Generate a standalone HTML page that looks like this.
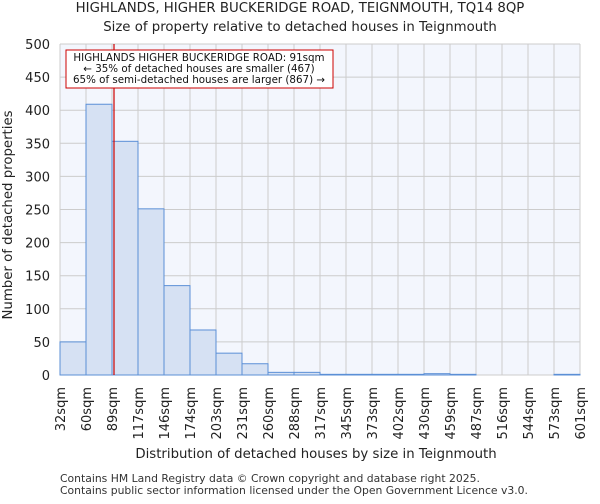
<!DOCTYPE html>
<html><head><meta charset="utf-8"><style>
body{margin:0;background:#fff;font-family:"DejaVu Sans","Liberation Sans",sans-serif;}
</style></head><body>
<svg width="600" height="500" xmlns="http://www.w3.org/2000/svg" style="font-family:'DejaVu Sans','Liberation Sans',sans-serif">
<text x="300" y="12" text-anchor="middle" font-size="13.3" fill="#222">HIGHLANDS, HIGHER BUCKERIDGE ROAD, TEIGNMOUTH, TQ14 8QP</text>
<text x="300" y="31" text-anchor="middle" font-size="13.3" fill="#222">Size of property relative to detached houses in Teignmouth</text>
<rect x="60" y="44" width="520" height="331" fill="#f3f6fd"/>
<g id="grid"></g>
<g id="bars"></g>
<g id="yticks"></g>
<g id="xticks"></g>
<line x1="114" y1="44" x2="114" y2="375" stroke="#cc0000" stroke-width="1.2"/>
<g>
<rect x="66" y="50" width="267" height="38" fill="#fff" stroke="#cc0000" stroke-width="1"/>
<text x="199" y="61" text-anchor="middle" font-size="10.3" fill="#111">HIGHLANDS HIGHER BUCKERIDGE ROAD: 91sqm</text>
<text x="199" y="72" text-anchor="middle" font-size="10.3" fill="#111">← 35% of detached houses are smaller (467)</text>
<text x="199" y="83" text-anchor="middle" font-size="10.3" fill="#111">65% of semi-detached houses are larger (867) →</text>
</g>
<text x="316" y="458" text-anchor="middle" font-size="13.3" fill="#222">Distribution of detached houses by size in Teignmouth</text>
<text transform="translate(12,215) rotate(-90)" text-anchor="middle" font-size="13.3" fill="#222">Number of detached properties</text>
<text x="60" y="482" font-size="10.8" fill="#333">Contains HM Land Registry data © Crown copyright and database right 2025.</text>
<text x="60" y="494" font-size="10.8" fill="#333">Contains public sector information licensed under the Open Government Licence v3.0.</text>
</svg>
<script>
const categories=["32sqm","60sqm","89sqm","117sqm","146sqm","174sqm","203sqm","231sqm","260sqm","288sqm","317sqm","345sqm","373sqm","402sqm","430sqm","459sqm","487sqm","516sqm","544sqm","573sqm","601sqm"];
const counts=[50,409,353,251,135,68,33,17,4,4,1,1,1,1,2,1,0,0,0,1];
const yTicks=[0,50,100,150,200,250,300,350,400,450,500];
const NS="http://www.w3.org/2000/svg";
const X0=60,X1=580,Y0=375,Y1=44,YMAX=500;
const bw=(X1-X0)/counts.length;
const xs=i=>X0+i*bw;
const ys=v=>Y0-(v/YMAX)*(Y0-Y1);
function mk(tag,attrs,parent){const e=document.createElementNS(NS,tag);for(const k in attrs)e.setAttribute(k,attrs[k]);document.getElementById(parent).appendChild(e);return e;}
yTicks.forEach(t=>{
 const g=mk('line',{x1:X0,x2:X1,y1:ys(t),y2:ys(t),stroke:'#cccccc','stroke-width':1},'grid');
 
 
 const l=mk('text',{x:X0-10,y:ys(t)+5,'text-anchor':'end','font-size':13,fill:'#222'},'yticks');
 l.textContent=t;
 
 
});
categories.forEach((c,i)=>{
 const g=mk('line',{x1:xs(i),x2:xs(i),y1:Y1,y2:Y0,stroke:'#cccccc','stroke-width':1},'grid');
 
 
 const x=xs(i);
 const l=mk('text',{x:x+5,y:Y0+12,'text-anchor':'end','font-size':13,fill:'#222',transform:`rotate(-90 ${x+5} ${Y0+12})`},'xticks');
 l.textContent=c;
 
 
});
counts.forEach((v,i)=>{
 const r=mk('rect',{x:xs(i),y:ys(v),width:bw,height:Y0-ys(v),fill:'#d6e1f3',stroke:'#5b8fd6','stroke-width':1},'bars');
 
 
});
</script>
</body></html>
